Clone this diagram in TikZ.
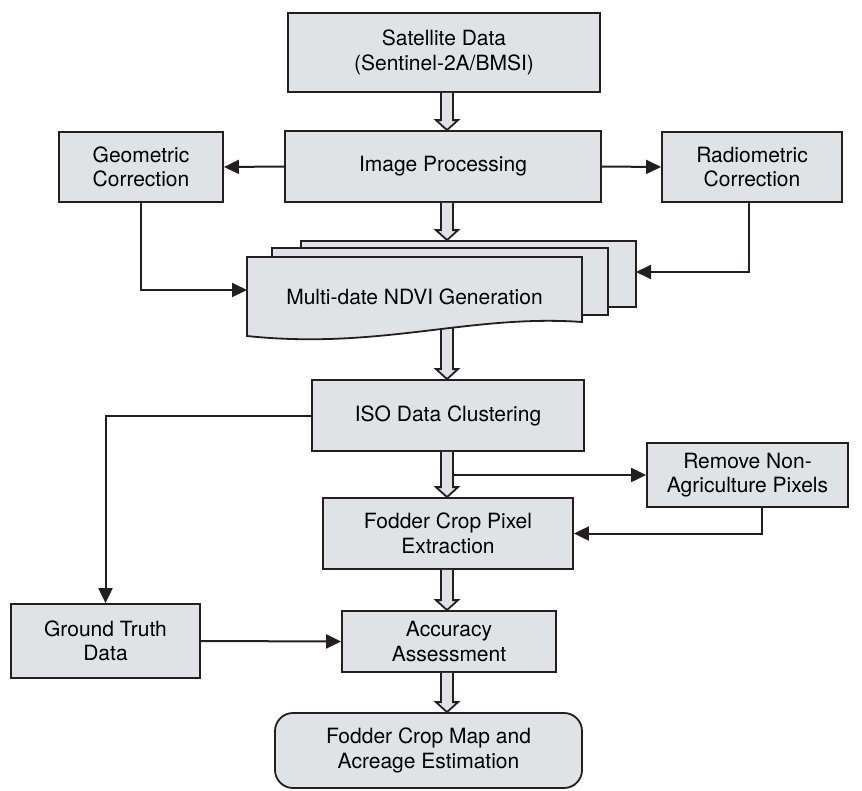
\documentclass[tikz,border=0pt]{standalone}
\usepackage{fontspec}
\setmainfont{TeX Gyre Heros}
\usetikzlibrary{arrows.meta,calc}
\definecolor{boxgray}{HTML}{E1E2E4}
\definecolor{inkline}{HTML}{231F20}
\tikzset{
  box/.style={draw=inkline, fill=boxgray, line width=1.8pt, align=center, inner sep=0pt,
    font=\fontsize{21}{24.5}\selectfont},
  roundbox/.style={box, rounded corners=18pt},
  sheet/.style={draw=inkline, fill=boxgray, line width=1.8pt, inner sep=0pt},
  conn/.style={draw=inkline, line width=2pt, -{Triangle[length=15pt,width=14pt]}},
  hollow/.style={draw=inkline, fill=boxgray, line width=1.8pt},
  lbl/.style={font=\fontsize{21}{24.5}\selectfont, inner sep=0pt}
}
\newcommand\harrow[2]{%
  \path[hollow] let \p1=(#1), \p2=(#2), \p3=(col) in
  (\x3-6pt,\y1) -- (\x3-6pt,\y2+10pt) -- (\x3-11pt,\y2+10pt) -- (\x3,\y2)
  -- (\x3+11pt,\y2+10pt) -- (\x3+6pt,\y2+10pt) -- (\x3+6pt,\y1);}
\begin{document}
\begin{tikzpicture}[x=1pt,y=-1pt]
\useasboundingbox (0,0) rectangle (862,790);
\coordinate (col) at (447,0);

\node[box, minimum width=312pt, minimum height=79pt] (sat) at (444,52.5) {Satellite Data\\(Sentinel-2A/BMSI)};
\node[box, minimum width=316pt, minimum height=71pt] (img) at (443,166.5) {Image Processing};
\node[box, minimum width=164pt, minimum height=70pt] (geo) at (141,167) {Geometric\\Correction};
\node[box, minimum width=180pt, minimum height=70pt] (rad) at (752,167) {Radiometric\\Correction};
\node[box, minimum width=272pt, minimum height=71pt] (iso) at (448,415.5) {ISO Data Clustering};
\node[box, minimum width=201pt, minimum height=64pt] (rem) at (747.5,475) {Remove Non-\\Agriculture Pixels};
\node[box, minimum width=250pt, minimum height=71pt] (fod) at (448,533.5) {Fodder Crop Pixel\\Extraction};
\node[box, minimum width=189pt, minimum height=74pt] (gt) at (105.5,641) {Ground Truth\\Data};
\node[box, minimum width=214pt, minimum height=61pt] (acc) at (449,641.5) {Accuracy\\Assessment};
\node[roundbox, minimum width=307pt, minimum height=75pt] (fin) at (428.5,750.5) {Fodder Crop Map and\\Acreage Estimation};

% hollow arrow from the document stack to ISO (drawn behind the stack)
\coordinate (docB) at (447,320);
\harrow{docB}{iso.north}

% document stack
\node[sheet, minimum width=335pt, minimum height=66pt] (sheetB) at (468.5,274) {};
\node[sheet, minimum width=336pt, minimum height=67pt] (sheetM) at (440,281.5) {};
\path[sheet] (247,257) -- (582,257) -- (582,322)
  .. controls (470,314) and (380,350) .. (247,336) -- cycle;
\node[lbl] (ndvi) at (414.5,297) {Multi-date NDVI Generation};
\coordinate (docL) at (247,290);
\coordinate (docR) at (636,272);

% hollow arrows
\harrow{sat.south}{img.north}
\harrow{img.south}{sheetB.north}
\harrow{iso.south}{fod.north}
\harrow{fod.south}{acc.north}
\harrow{acc.south}{fin.north}

% connectors
\draw[conn] (img.west) -- (geo.east);
\draw[conn] (img.east) -- (rad.west);
\draw[conn] (geo.south) |- (docL);
\draw[conn] ([xshift=-3pt]rad.south) |- (docR);
\draw[conn] (iso.west) -| (gt.north);
\draw[conn] (gt.east) -- (acc.west);
\coordinate (br) at (453,475);
\draw[conn] (br) -- (rem.west);
\draw[conn] ([xshift=14.5pt]rem.south) |- (fod.east);
\end{tikzpicture}
\end{document}
